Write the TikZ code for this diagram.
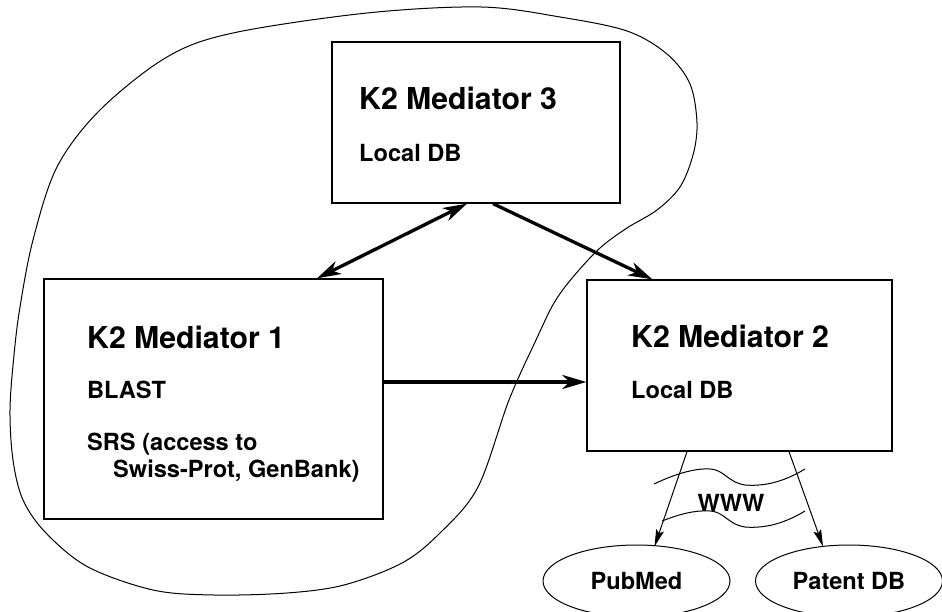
\documentclass[tikz,border=0pt]{standalone}
\usepackage{fontspec}
\setmainfont{TeX Gyre Heros}
\usetikzlibrary{arrows.meta,shapes.geometric}

\tikzset{
  medbox/.style={draw, line width=1.3pt, inner sep=0pt},
  title/.style={anchor=base west, inner sep=0pt, font=\fontsize{30.2}{34}\selectfont\bfseries},
  body/.style={anchor=base west, inner sep=0pt, font=\fontsize{23.6}{27}\selectfont\bfseries},
  source/.style={ellipse, draw, line width=1pt, minimum width=187pt, minimum height=72pt,
    inner sep=0pt, font=\fontsize{23.6}{27}\selectfont\bfseries},
  bigarrow/.style={line width=3.3pt, -{Stealth[length=24pt,width=14pt,inset=7pt]}},
  bigboth/.style={line width=3.3pt, {Stealth[length=24pt,width=14pt,inset=7pt]}-{Stealth[length=24pt,width=14pt,inset=7pt]}},
  thinarrow/.style={line width=1pt, -{Stealth[length=17pt,width=8pt,inset=3pt]}},
  outline/.style={line width=1pt}
}

\begin{document}
\begin{tikzpicture}[x=1pt,y=-1pt]
\useasboundingbox (0,0) rectangle (942,612);
\clip (0,0) rectangle (942,612);

% region boundary around the local mediators
\draw[outline] plot[smooth cycle, tension=0.55] coordinates {
  (481,7) (560,17) (627,31) (667,54) (690,84) (697,123) (693,155) (680,187)
  (657,210) (627,228) (600,248) (573,277) (554,303) (536,340) (509,400)
  (478,487) (440,533) (402,563) (344,585) (287,593) (214,595) (153,590)
  (88,567) (46,533) (23,500) (13,460) (10,410) (14,355) (20,307) (33,240)
  (57,167) (100,110) (167,57) (233,33) (367,13)};

% mediator boxes
\node[medbox, minimum width=288pt, minimum height=161pt] (m3) at (476,122.5) {};
\node[medbox, minimum width=339pt, minimum height=240pt] (m1) at (213.5,399) {};
\node[medbox, minimum width=305pt, minimum height=171pt] (m2) at (739.5,365.5) {};

\node[title] (m3t) at (359,110) {K2 Mediator 3};
\node[body]  (m3a) at (359,162) {Local DB};

\node[title] (m1t) at (87,348) {K2 Mediator 1};
\node[body]  (m1a) at (87,398) {BLAST};
\node[body]  (m1b) at (87,450) {SRS (access to};
\node[body]  (m1c) at (113,477) {Swiss-Prot, GenBank)};

\node[title] (m2t) at (631,347) {K2 Mediator 2};
\node[body]  (m2a) at (631,398) {Local DB};

% external sources
\node[source] (pubmed) at (636.5,581) {PubMed};
\node[source] (patent) at (849,581) {Patent DB};

% links between mediators
\draw[bigboth] ([xshift=-9pt]m3.south) -- ([xshift=103.5pt]m1.north);
\draw[bigarrow] ([xshift=17pt]m3.south) -- ([xshift=66pt]m2.north west);
\draw[bigarrow] ([yshift=17pt]m1.east) -- ([yshift=17pt]m1.east -| m2.west);

% access over the web
\draw[thinarrow] ([xshift=-52.5pt]m2.south) -- ([xshift=18pt,yshift=-2pt]pubmed.north);
\draw[thinarrow] ([xshift=49.5pt]m2.south) -- ([xshift=-26pt,yshift=-2pt]patent.north);

% the web "cloud" lines
\draw[outline] (654,484) .. controls (675,474) and (695,468) .. (710,469)
  .. controls (725,470) and (727,482) .. (745,485)
  .. controls (770,487) and (790,478) .. (805,469);
\draw[outline] (662,521) .. controls (680,514) and (695,510) .. (710,511)
  .. controls (725,512) and (727,524) .. (745,527)
  .. controls (770,529) and (790,520) .. (805,511);

\node[body, anchor=base] (www) at (731,511) {WWW};
\end{tikzpicture}
\end{document}
